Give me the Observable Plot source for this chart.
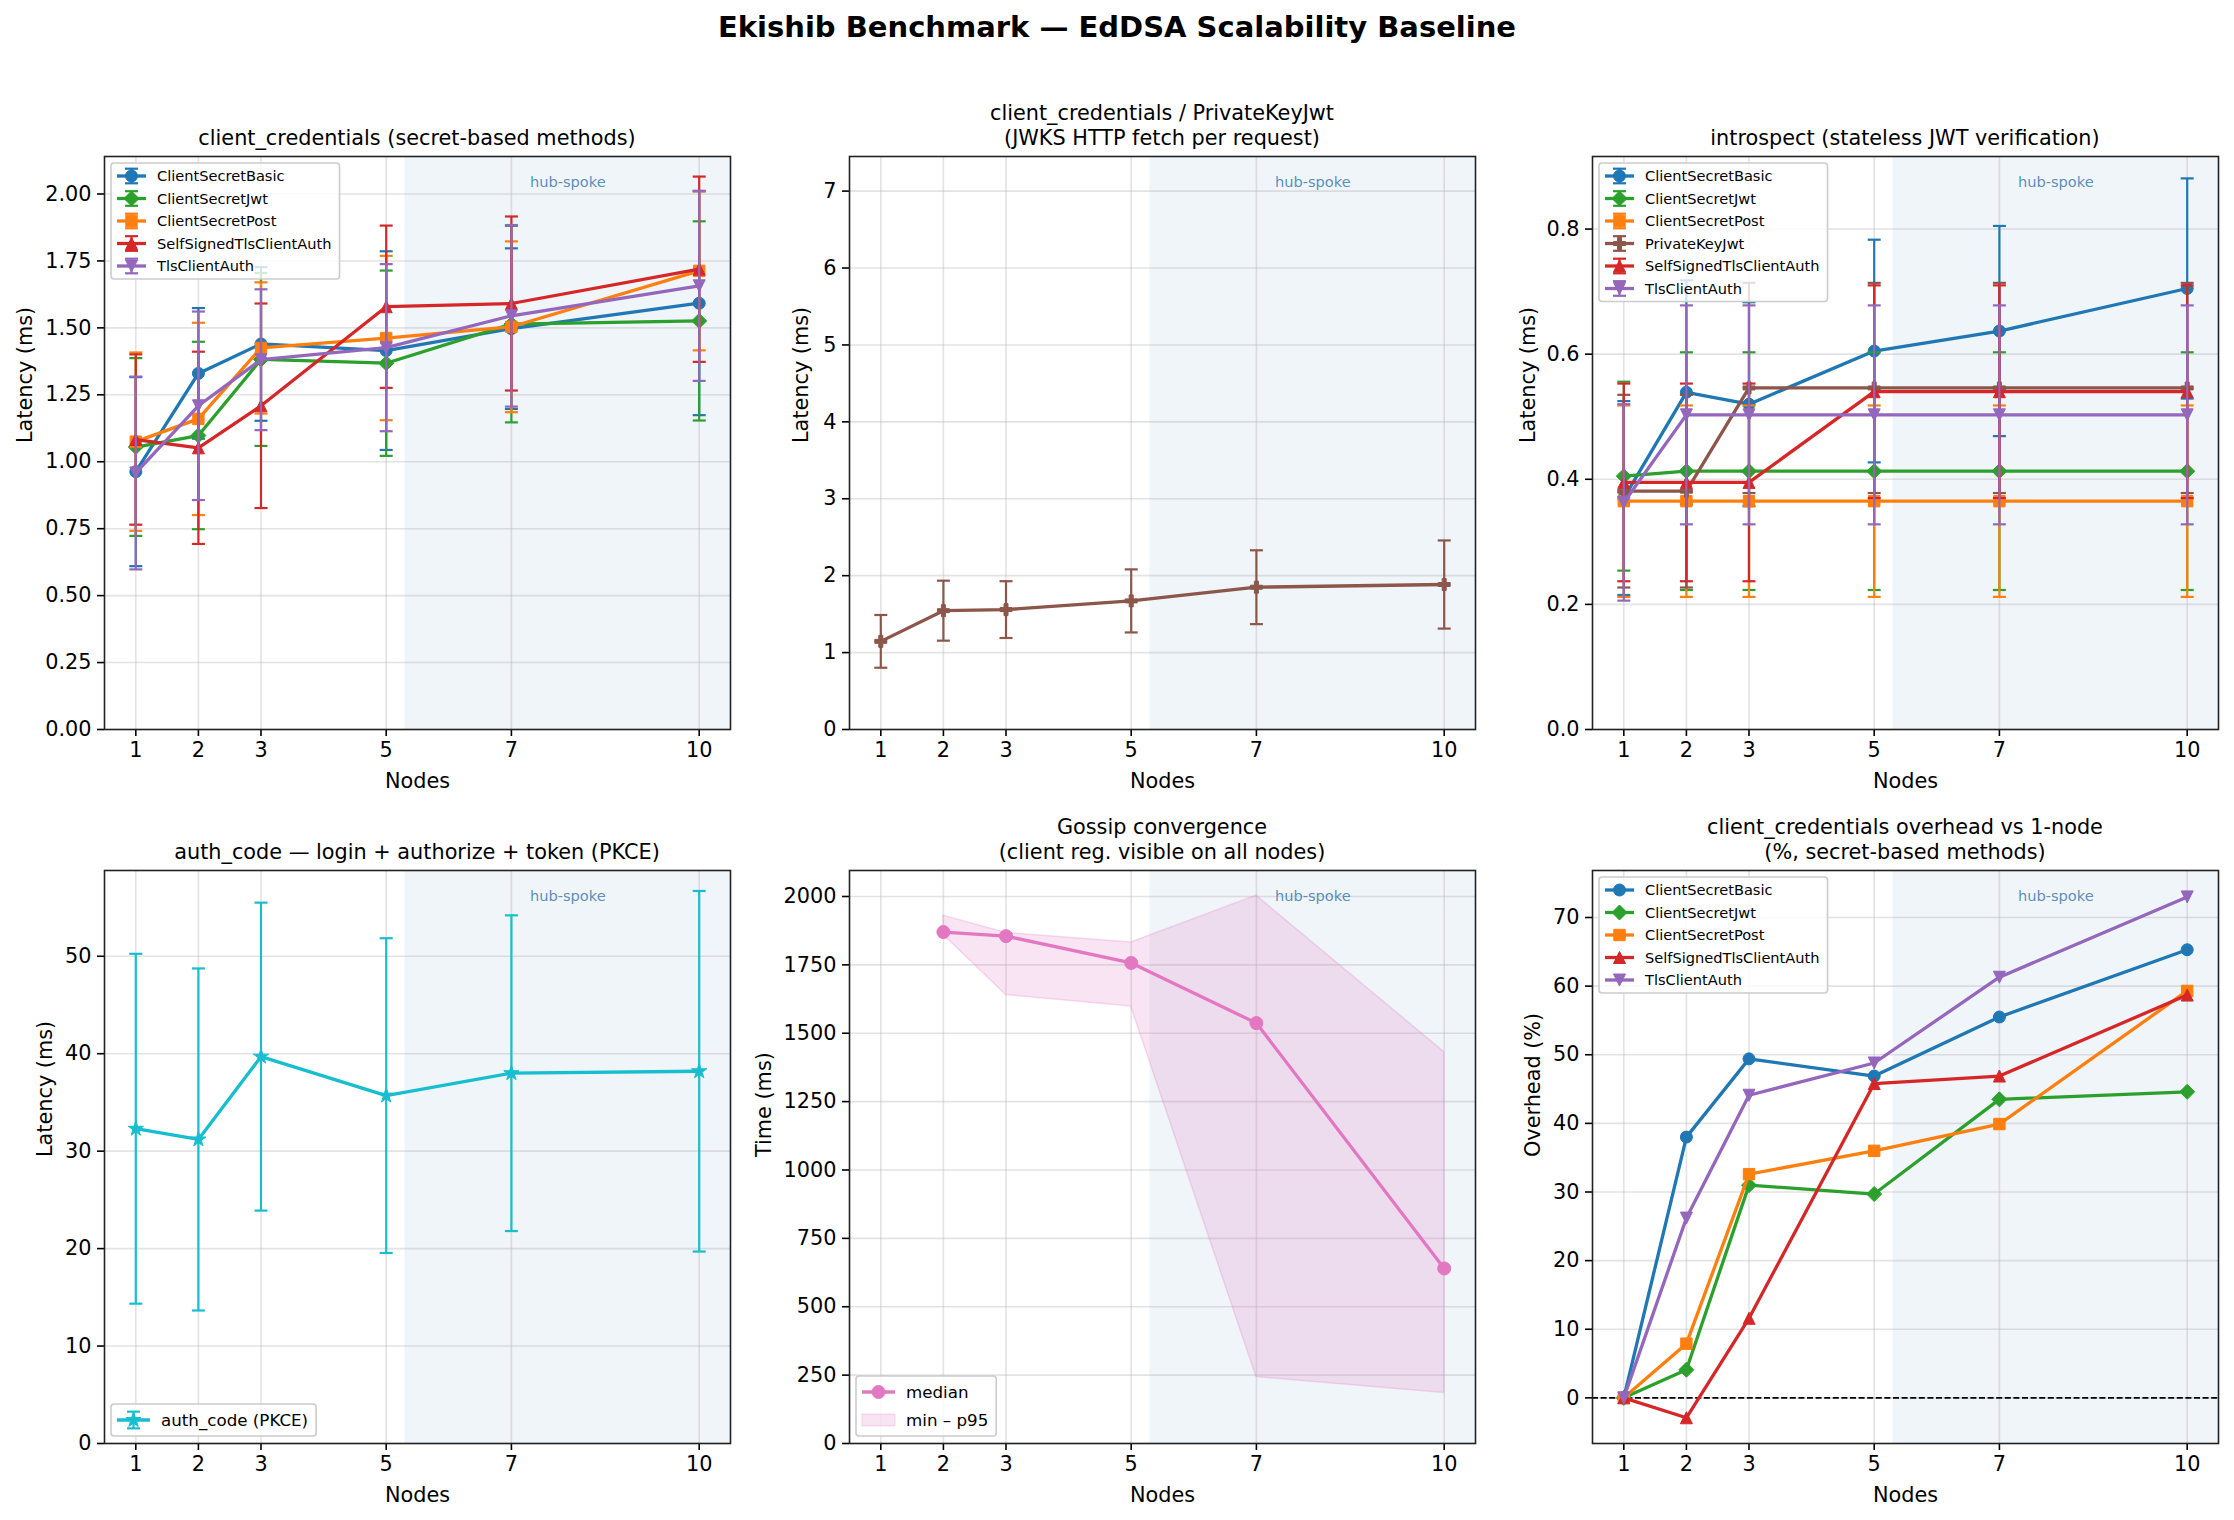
<!DOCTYPE html>
<html>
<head>
<meta charset="utf-8">
<script src="https://cdn.jsdelivr.net/npm/d3@7"></script>
<script src="https://cdn.jsdelivr.net/npm/@observablehq/plot@0.6"></script>
<style>
  html, body { margin: 0; padding: 0; background: #fff; }
  #fig { position: relative; width: 2234px; height: 1520px; background: #fff; overflow: hidden;
         font-family: "DejaVu Sans", sans-serif; color: #000; }
  .suptitle { position: absolute; left: 0; top: 10px; width: 2234px; text-align: center;
              font-size: 29px; line-height: 34px; font-weight: bold; }
  .ptitle { position: absolute; text-align: center; font-size: 20.8px; line-height: 25px; white-space: pre; }
  .panel { position: absolute; }
  .legend { position: absolute; overflow: visible; }
</style>
</head>
<body>
<div id="fig">
  <div class="suptitle">Ekishib Benchmark — EdDSA Scalability Baseline</div>
</div>
<script>
// ---------- data ----------
const nodes = [1, 2, 3, 5, 7, 10];
const hubSpan = [5.3, 10.5];
const hubLabel = "hub-spoke";

// client_credentials latency (ms), mean and std per node count
const ccBasicMean = [0.963, 1.330, 1.440, 1.415, 1.497, 1.592];
const ccBasicSd   = [0.353, 0.244, 0.287, 0.371, 0.300, 0.418];
const ccJwtMean   = [1.055, 1.098, 1.382, 1.368, 1.514, 1.526];
const ccJwtSd     = [0.332, 0.350, 0.323, 0.346, 0.367, 0.372];
const ccPostMean  = [1.075, 1.160, 1.425, 1.462, 1.504, 1.713];
const ccPostSd    = [0.333, 0.359, 0.245, 0.307, 0.319, 0.297];
const ccSelfMean  = [1.083, 1.052, 1.209, 1.579, 1.591, 1.719];
const ccSelfSd    = [0.318, 0.359, 0.382, 0.303, 0.325, 0.346];
const ccTlsMean   = [0.958, 1.209, 1.381, 1.426, 1.545, 1.657];
const ccTlsSd     = [0.360, 0.352, 0.263, 0.312, 0.339, 0.355];

// client_credentials / PrivateKeyJwt latency (ms)
const pkjMean = [1.146, 1.545, 1.559, 1.672, 1.850, 1.885];
const pkjSd   = [0.343, 0.390, 0.369, 0.410, 0.480, 0.573];

// introspect latency (ms)
const inBasicMean = [0.370, 0.539, 0.520, 0.605, 0.637, 0.705];
const inBasicSd   = [0.155, 0.179, 0.163, 0.178, 0.168, 0.176];
const inJwtMean   = [0.405, 0.413, 0.413, 0.413, 0.413, 0.413];
const inJwtSd     = [0.151, 0.190, 0.190, 0.190, 0.190, 0.190];
const inPostMean  = [0.365, 0.365, 0.365, 0.365, 0.365, 0.365];
const inPostSd    = [0.153, 0.153, 0.153, 0.153, 0.153, 0.153];
const inPkjMean   = [0.381, 0.381, 0.546, 0.546, 0.546, 0.546];
const inPkjSd     = [0.154, 0.154, 0.168, 0.168, 0.168, 0.168];
const inSelfMean  = [0.395, 0.395, 0.395, 0.540, 0.540, 0.540];
const inSelfSd    = [0.158, 0.158, 0.158, 0.170, 0.170, 0.170];
const inTlsMean   = [0.363, 0.503, 0.503, 0.503, 0.503, 0.503];
const inTlsSd     = [0.157, 0.175, 0.175, 0.175, 0.175, 0.175];

// auth_code (PKCE) latency (ms)
const acMean = [32.3, 31.2, 39.7, 35.7, 38.0, 38.2];
const acSd   = [17.95, 17.55, 15.8, 16.15, 16.2, 18.5];

// gossip convergence (ms)
const gossipNodes  = [2, 3, 5, 7, 10];
const gossipMedian = [1870, 1855, 1757, 1537, 640];
const gossipMin    = [1860, 1640, 1598, 243, 185];
const gossipP95    = [1930, 1867, 1832, 2003, 1431];

// client_credentials overhead vs 1-node (%)
const ohBasic = [0, 38.0, 49.4, 46.9, 55.5, 65.3];
const ohJwt   = [0, 4.1, 31.0, 29.7, 43.5, 44.6];
const ohPost  = [0, 7.9, 32.6, 36.0, 39.9, 59.3];
const ohSelf  = [0, -2.9, 11.6, 45.8, 46.9, 58.7];
const ohTls   = [0, 26.2, 44.1, 48.8, 61.3, 73.0];

// ---------- styling ----------
const FONT = '"DejaVu Sans", sans-serif';
const COL = {
  basic: "#1f77b4", jwt: "#2ca02c", post: "#ff7f0e", pkj: "#8c564b",
  self: "#d62728", tls: "#9467bd", ac: "#17becf", gossip: "#e377c2"
};

// marker shapes (size is area; radius recovered from it)
const rad = s => Math.sqrt(s / Math.PI);
const symCircle = d3.symbolCircle;
const symDiamond = {draw(c, s) { const r = rad(s) * 1.25; c.moveTo(0, -r); c.lineTo(r, 0); c.lineTo(0, r); c.lineTo(-r, 0); c.closePath(); }};
const symSquare = {draw(c, s) { const r = rad(s) * 0.95; c.rect(-r, -r, 2 * r, 2 * r); }};
const symTriUp = {draw(c, s) { const r = rad(s); c.moveTo(0, -r); c.lineTo(r, r); c.lineTo(-r, r); c.closePath(); }};
const symTriDown = {draw(c, s) { const r = rad(s); c.moveTo(0, r); c.lineTo(r, -r); c.lineTo(-r, -r); c.closePath(); }};
const symPlus = {draw(c, s) {
  const r = rad(s), a = r / 3;
  const pts = [[-a,-r],[a,-r],[a,-a],[r,-a],[r,a],[a,a],[a,r],[-a,r],[-a,a],[-r,a],[-r,-a],[-a,-a]];
  pts.forEach(([x, y], k) => k ? c.lineTo(x, y) : c.moveTo(x, y)); c.closePath();
}};
const symStar = {draw(c, s) {
  const R = rad(s), ri = R * 0.381966;
  for (let k = 0; k < 10; k++) {
    const ang = -Math.PI / 2 + k * Math.PI / 5, rr = k % 2 ? ri : R;
    const x = rr * Math.cos(ang), y = rr * Math.sin(ang);
    k ? c.lineTo(x, y) : c.moveTo(x, y);
  }
  c.closePath();
}};
const symCap = {draw(c, s) { const r = rad(s); c.moveTo(-r, 0); c.lineTo(r, 0); }};

const LW = 3.3, ELW = 2.2, CAP = 6.5, MR_ = 6;

// ---------- series helpers ----------
function errRows(x, mean, sd) { return x.map((v, i) => ({x: v, y: mean[i], lo: mean[i] - sd[i], hi: mean[i] + sd[i]})); }
function ptRows(x, vals) { return x.map((v, i) => ({x: v, y: vals[i]})); }

function errSeries(rows, color, symbol, r = MR_) {
  return [
    Plot.ruleX(rows, {x: "x", y1: "lo", y2: "hi", stroke: color, strokeWidth: ELW}),
    Plot.dot(rows, {x: "x", y: "lo", symbol: symCap, r: CAP, fill: "none", stroke: color, strokeWidth: ELW}),
    Plot.dot(rows, {x: "x", y: "hi", symbol: symCap, r: CAP, fill: "none", stroke: color, strokeWidth: ELW}),
    Plot.line(rows, {x: "x", y: "y", stroke: color, strokeWidth: LW}),
    Plot.dot(rows, {x: "x", y: "y", symbol, r, fill: color, stroke: color, strokeWidth: 1})
  ];
}
function lineSeries(rows, color, symbol, r = MR_) {
  return [
    Plot.line(rows, {x: "x", y: "y", stroke: color, strokeWidth: LW}),
    Plot.dot(rows, {x: "x", y: "y", symbol, r, fill: color, stroke: color, strokeWidth: 1})
  ];
}

// ---------- panel layout ----------
const FW = 626, FH = 573;
const ML = 115, MRG = 20, MT = 20, MB = 75;
const colLeft = [104, 849, 1592];
const rowTop = [156, 870];
const fig = document.getElementById("fig");

function addTitle(text, fx, fy) {
  const n = text.split("\n").length;
  const d = document.createElement("div");
  d.className = "ptitle";
  d.textContent = text;
  d.style.left = fx + "px";
  d.style.width = FW + "px";
  d.style.top = (fy - 5 - 25 * n) + "px";
  fig.appendChild(d);
}

function makePanel({col, row, title, yDomain, yTicks, yFormat, yLabel, yLabelOffset, marks}) {
  const fx = colLeft[col], fy = rowTop[row];
  const chart = Plot.plot({
    width: ML + FW + MRG, height: MT + FH + MB,
    marginLeft: ML, marginRight: MRG, marginTop: MT, marginBottom: MB,
    style: {fontFamily: FONT, fontSize: "20.8px", color: "#000", background: "transparent", overflow: "visible"},
    x: {type: "linear", domain: [0.5, 10.5]},
    y: {type: "linear", domain: yDomain},
    marks: [
      Plot.rect([hubSpan], {x1: d => d[0], x2: d => d[1], fill: "#4682b4", fillOpacity: 0.08}),
      Plot.gridX(nodes, {stroke: "#b0b0b0", strokeOpacity: 0.35, strokeWidth: 1.6}),
      Plot.gridY(yTicks, {stroke: "#b0b0b0", strokeOpacity: 0.35, strokeWidth: 1.6}),
      ...marks,
      Plot.text([hubLabel], {x: () => (hubSpan[0] + hubSpan[1]) / 2, frameAnchor: "top", dy: 20,
        text: d => d, fill: "#4682b4", fillOpacity: 0.9, fontSize: 14.6}),
      Plot.axisX(nodes, {tickSize: 7, tickPadding: 6, tickFormat: d => String(d), fontSize: 20.8, label: null, strokeWidth: 1.6}),
      Plot.axisY(yTicks, {tickSize: 7, tickPadding: 6, tickFormat: yFormat, fontSize: 20.8, label: null, strokeWidth: 1.6}),
      Plot.frame({stroke: "#222", strokeWidth: 1.6}),
      Plot.text(["Nodes"], {frameAnchor: "bottom", dy: 58, text: d => d, fontSize: 20.8, fill: "#000"}),
      Plot.text([yLabel], {frameAnchor: "left", dx: -yLabelOffset, rotate: -90, text: d => d, fontSize: 20.8, fill: "#000"})
    ]
  });
  const wrap = document.createElement("div");
  wrap.className = "panel";
  wrap.style.left = (fx - ML) + "px";
  wrap.style.top = (fy - MT) + "px";
  wrap.style.width = (ML + FW + MRG) + "px";
  wrap.appendChild(chart);
  fig.appendChild(wrap);
  addTitle(title, fx, fy);
  return {fx, fy};
}

// ---------- legends ----------
const measureCtx = document.createElement("canvas").getContext("2d");
function textWidth(t, fs) { measureCtx.font = `${fs}px "DejaVu Sans"`; return measureCtx.measureText(t).width; }

function addLegend(entries, {fx, fy, corner = "top", fs = 14.6, pitch = 22.5, off = 13, hl = 29}) {
  const pad = 6, gap = 11;
  const tw = d3.max(entries, e => textWidth(e.label, fs));
  const w = pad + hl + gap + tw + pad + 2;
  const h = 2 * off + (entries.length - 1) * pitch;
  const x0 = fx + 7;
  const y0 = corner === "top" ? fy + 7 : fy + FH - 7 - h;
  const svg = d3.create("svg").attr("class", "legend")
    .attr("width", w + 4).attr("height", h + 4)
    .style("left", (x0 - 2) + "px").style("top", (y0 - 2) + "px");
  const g = svg.append("g").attr("transform", "translate(2,2)");
  g.append("rect").attr("width", w).attr("height", h).attr("rx", 3)
    .attr("fill", "#fff").attr("fill-opacity", 0.8).attr("stroke", "#cccccc").attr("stroke-width", 1.6);
  entries.forEach((e, i) => {
    const cy = off + i * pitch, hx0 = pad, hx1 = pad + hl, cx = (hx0 + hx1) / 2;
    if (e.kind === "patch") {
      g.append("rect").attr("x", hx0).attr("y", cy - 0.35 * fs).attr("width", hl).attr("height", 0.7 * fs)
        .attr("fill", e.color).attr("fill-opacity", 0.2).attr("stroke", e.color).attr("stroke-opacity", 0.3);
    } else {
      g.append("line").attr("x1", hx0).attr("x2", hx1).attr("y1", cy).attr("y2", cy)
        .attr("stroke", e.color).attr("stroke-width", LW);
      if (e.kind === "err") {
        const eh = 0.5 * fs;
        g.append("line").attr("x1", cx).attr("x2", cx).attr("y1", cy - eh).attr("y2", cy + eh)
          .attr("stroke", e.color).attr("stroke-width", ELW);
        [cy - eh, cy + eh].forEach(yy => g.append("line").attr("x1", cx - CAP).attr("x2", cx + CAP)
          .attr("y1", yy).attr("y2", yy).attr("stroke", e.color).attr("stroke-width", ELW));
      }
      const r = e.r || MR_;
      g.append("path").attr("transform", `translate(${cx},${cy})`)
        .attr("d", d3.symbol(e.symbol, r * r * Math.PI)())
        .attr("fill", e.color).attr("stroke", e.color).attr("stroke-width", 1);
    }
    g.append("text").attr("x", hx1 + gap).attr("y", cy).attr("dy", "0.35em")
      .attr("font-family", FONT).attr("font-size", fs).attr("fill", "#000").text(e.label);
  });
  fig.appendChild(svg.node());
}

// ---------- panels ----------
const ccSeries = [
  {label: "ClientSecretBasic", color: COL.basic, symbol: symCircle, mean: ccBasicMean, sd: ccBasicSd},
  {label: "ClientSecretJwt", color: COL.jwt, symbol: symDiamond, mean: ccJwtMean, sd: ccJwtSd},
  {label: "ClientSecretPost", color: COL.post, symbol: symSquare, mean: ccPostMean, sd: ccPostSd},
  {label: "SelfSignedTlsClientAuth", color: COL.self, symbol: symTriUp, mean: ccSelfMean, sd: ccSelfSd},
  {label: "TlsClientAuth", color: COL.tls, symbol: symTriDown, mean: ccTlsMean, sd: ccTlsSd}
];
const p1 = makePanel({
  col: 0, row: 0, title: "client_credentials (secret-based methods)",
  yDomain: [0, 2.14], yTicks: d3.range(0, 2.01, 0.25), yFormat: d3.format(".2f"),
  yLabel: "Latency (ms)", yLabelOffset: 79,
  marks: ccSeries.flatMap(s => errSeries(errRows(nodes, s.mean, s.sd), s.color, s.symbol))
});
addLegend(ccSeries.map(s => ({label: s.label, color: s.color, symbol: s.symbol, kind: "err"})), {fx: p1.fx, fy: p1.fy});

const p2 = makePanel({
  col: 1, row: 0, title: "client_credentials / PrivateKeyJwt\n(JWKS HTTP fetch per request)",
  yDomain: [0, 7.45], yTicks: d3.range(0, 8), yFormat: d3.format("d"),
  yLabel: "Latency (ms)", yLabelOffset: 48,
  marks: errSeries(errRows(nodes, pkjMean, pkjSd), COL.pkj, symPlus)
});

const inSeries = [
  {label: "ClientSecretBasic", color: COL.basic, symbol: symCircle, mean: inBasicMean, sd: inBasicSd},
  {label: "ClientSecretJwt", color: COL.jwt, symbol: symDiamond, mean: inJwtMean, sd: inJwtSd},
  {label: "ClientSecretPost", color: COL.post, symbol: symSquare, mean: inPostMean, sd: inPostSd},
  {label: "PrivateKeyJwt", color: COL.pkj, symbol: symPlus, mean: inPkjMean, sd: inPkjSd},
  {label: "SelfSignedTlsClientAuth", color: COL.self, symbol: symTriUp, mean: inSelfMean, sd: inSelfSd},
  {label: "TlsClientAuth", color: COL.tls, symbol: symTriDown, mean: inTlsMean, sd: inTlsSd}
];
const p3 = makePanel({
  col: 2, row: 0, title: "introspect (stateless JWT verification)",
  yDomain: [0, 0.916], yTicks: [0, 0.2, 0.4, 0.6, 0.8], yFormat: d3.format(".1f"),
  yLabel: "Latency (ms)", yLabelOffset: 64,
  marks: inSeries.flatMap(s => errSeries(errRows(nodes, s.mean, s.sd), s.color, s.symbol))
});
addLegend(inSeries.map(s => ({label: s.label, color: s.color, symbol: s.symbol, kind: "err"})), {fx: p3.fx, fy: p3.fy});

const p4 = makePanel({
  col: 0, row: 1, title: "auth_code — login + authorize + token (PKCE)",
  yDomain: [0, 58.8], yTicks: d3.range(0, 51, 10), yFormat: d3.format("d"),
  yLabel: "Latency (ms)", yLabelOffset: 59,
  marks: errSeries(errRows(nodes, acMean, acSd), COL.ac, symStar, 8)
});
addLegend([{label: "auth_code (PKCE)", color: COL.ac, symbol: symStar, r: 8, kind: "err"}],
  {fx: p4.fx, fy: p4.fy, corner: "bottom", fs: 16.7, pitch: 28, off: 16, hl: 33});

const gossipRows = gossipNodes.map((x, i) => ({x, median: gossipMedian[i], min: gossipMin[i], p95: gossipP95[i]}));
const p5 = makePanel({
  col: 1, row: 1, title: "Gossip convergence\n(client reg. visible on all nodes)",
  yDomain: [0, 2095], yTicks: d3.range(0, 2001, 250), yFormat: d3.format("d"),
  yLabel: "Time (ms)", yLabelOffset: 85,
  marks: [
    Plot.areaY(gossipRows, {x: "x", y1: "min", y2: "p95", fill: COL.gossip, fillOpacity: 0.2,
      stroke: COL.gossip, strokeOpacity: 0.25, strokeWidth: 1.5}),
    Plot.line(gossipRows, {x: "x", y: "median", stroke: COL.gossip, strokeWidth: LW}),
    Plot.dot(gossipRows, {x: "x", y: "median", symbol: symCircle, r: 6.5, fill: COL.gossip, stroke: COL.gossip, strokeWidth: 1})
  ]
});
addLegend([
  {label: "median", color: COL.gossip, symbol: symCircle, r: 6.5, kind: "line"},
  {label: "min – p95", color: COL.gossip, kind: "patch"}
], {fx: p5.fx, fy: p5.fy, corner: "bottom", fs: 16.7, pitch: 28, off: 16, hl: 33});

const ohSeries = [
  {label: "ClientSecretBasic", color: COL.basic, symbol: symCircle, vals: ohBasic},
  {label: "ClientSecretJwt", color: COL.jwt, symbol: symDiamond, vals: ohJwt},
  {label: "ClientSecretPost", color: COL.post, symbol: symSquare, vals: ohPost},
  {label: "SelfSignedTlsClientAuth", color: COL.self, symbol: symTriUp, vals: ohSelf},
  {label: "TlsClientAuth", color: COL.tls, symbol: symTriDown, vals: ohTls}
];
const p6 = makePanel({
  col: 2, row: 1, title: "client_credentials overhead vs 1-node\n(%, secret-based methods)",
  yDomain: [-6.65, 76.85], yTicks: d3.range(0, 71, 10), yFormat: d3.format("d"),
  yLabel: "Overhead (%)", yLabelOffset: 59,
  marks: [
    Plot.ruleY([0], {stroke: "#000", strokeWidth: 1.6, strokeDasharray: "6,2.6"}),
    ...ohSeries.flatMap(s => lineSeries(ptRows(nodes, s.vals), s.color, s.symbol))
  ]
});
addLegend(ohSeries.map(s => ({label: s.label, color: s.color, symbol: s.symbol, kind: "line"})), {fx: p6.fx, fy: p6.fy});
</script>
</body>
</html>
